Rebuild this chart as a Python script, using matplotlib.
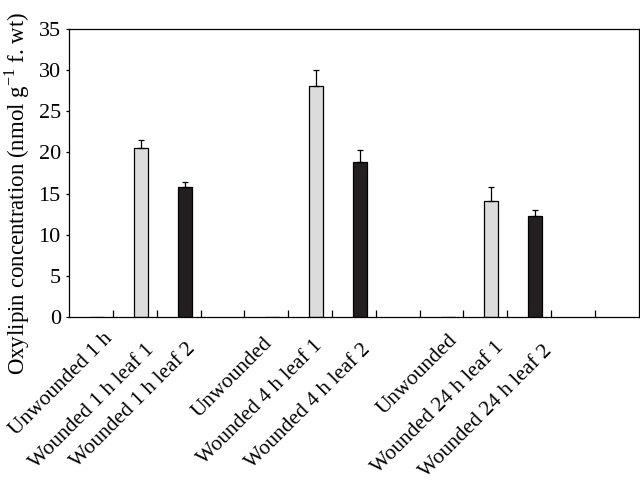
import matplotlib
matplotlib.use('Agg')
import matplotlib.pyplot as plt
import matplotlib.transforms as mtransforms

plt.rcParams['font.family'] = ['Liberation Serif', 'DejaVu Serif']
plt.rcParams['mathtext.fontset'] = 'custom'
plt.rcParams['mathtext.rm'] = 'Liberation Serif'

# Data (nmol g-1 f. wt)
labels = ['Unwounded 1 h', 'Wounded 1 h leaf 1', 'Wounded 1 h leaf 2',
          'Unwounded', 'Wounded 4 h leaf 1', 'Wounded 4 h leaf 2',
          'Unwounded', 'Wounded 24 h leaf 1', 'Wounded 24 h leaf 2']
conc = [0, 20.5, 15.8, 0, 28.1, 18.9, 0, 14.1, 12.3]
err = [0, 1.0, 0.6, 0, 1.9, 1.35, 0, 1.7, 0.7]
yticks = [0, 5, 10, 15, 20, 25, 30, 35]

# layout: slot of each category (a blank slot after each group), label anchors
slots = [i + i // 3 for i in range(len(labels))]
n_slots = 13
label_x = [0.42, 1.38, 2.32, 4.07, 5.21, 6.31, 8.29, 9.36, 10.46]
label_y = [-0.065, -0.105, -0.10, -0.08, -0.09, -0.105, -0.07, -0.095, -0.11]
bar_colors = ['#ffffff', '#dcdcdc', '#231f20'] * 3

fig = plt.figure(figsize=(6.4, 4.82), dpi=100)
ax = fig.add_axes([0.108, 0.342, 0.89, 0.598])

xpos = [s + 0.137 for s in slots]
ax.bar(xpos, conc, width=0.32, color=bar_colors, edgecolor='black', linewidth=0.9)
for x, v, e in zip(xpos, conc, err):
    if e > 0:
        ax.errorbar(x, v, yerr=[[0], [e]], fmt='none', ecolor='black',
                    elinewidth=0.9, capsize=2.2, capthick=0.9)

ax.set_xlim(-0.5, n_slots - 0.5)
ax.set_ylim(0, 35)
ax.set_yticks(yticks)
ax.set_xticks([i + 0.5 for i in range(n_slots - 1)])
ax.set_xticklabels([])
ax.tick_params(axis='x', direction='in', length=5, width=0.9)
ax.tick_params(axis='y', direction='out', length=2.5, width=0.9, labelsize=16)
for sp in ax.spines.values():
    sp.set_linewidth(0.9)

trans = mtransforms.blended_transform_factory(ax.transData, ax.transAxes)
for lab, lx, ly in zip(labels, label_x, label_y):
    ax.text(lx, ly, lab, transform=trans, rotation=45, rotation_mode='anchor',
            ha='right', va='center', fontsize=15.5)

ax.set_ylabel('Oxylipin concentration (nmol g$^{-1}$ f. wt)', fontsize=16.5)
ax.yaxis.set_label_coords(-0.066, 0.43)

plt.savefig('out.png', dpi=100)
